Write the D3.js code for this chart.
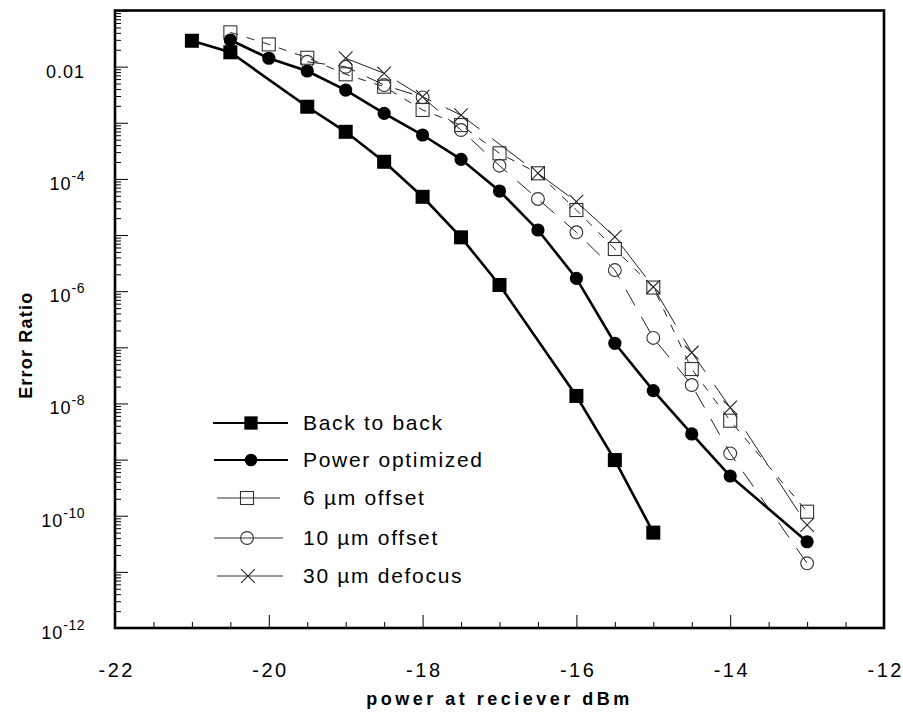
<!DOCTYPE html>
<html>
<head>
<meta charset="utf-8">
<script src="https://cdn.jsdelivr.net/npm/d3@7"></script>
<style>
  html, body { margin: 0; padding: 0; background: #fff; }
  svg { display: block; font-family: Arial, "Liberation Sans", Helvetica, sans-serif; }
</style>
</head>
<body>
<svg id="chart" width="903" height="716"></svg>
<script>
// Received optical power (dBm) and measured error ratio for each configuration
const b2bPower = [-21, -20.5, -19.5, -19, -18.5, -18, -17.5, -17, -16, -15.5, -15];
const b2bError = [0.0289, 0.0180, 0.00193, 6.9e-4, 2.02e-4, 4.8e-5, 9.1e-6, 1.29e-6, 1.36e-8, 9.8e-10, 5.0e-11];

const optPower = [-20.5, -20, -19.5, -19, -18.5, -18, -17.5, -17, -16.5, -16, -15.5, -15, -14.5, -14, -13];
const optError = [0.0298, 0.0141, 0.00836, 0.00383, 0.00147, 6.05e-4, 2.23e-4, 6.08e-5, 1.23e-5, 1.69e-6, 1.18e-7, 1.69e-8, 2.86e-9, 5.1e-10, 3.44e-11];

const off6Power = [-20.5, -20, -19.5, -19, -18.5, -18, -17.5, -17, -16.5, -16, -15.5, -15, -14.5, -14, -13];
const off6Error = [0.0408, 0.0249, 0.0144, 0.0073, 0.00439, 0.00169, 9.1e-4, 2.86e-4, 1.26e-4, 2.79e-5, 5.64e-6, 1.16e-6, 4.1e-8, 4.93e-9, 1.18e-10];

const off10Power = [-19.5, -19, -18.5, -18, -17.5, -17, -16.5, -16, -15.5, -15, -14.5, -14, -13];
const off10Error = [0.0122, 0.00995, 0.0047, 0.00284, 7.43e-4, 1.72e-4, 4.39e-5, 1.12e-5, 2.38e-6, 1.47e-7, 2.13e-8, 1.29e-9, 1.42e-11];

const defPower = [-19, -18.5, -18, -17.5, -16.5, -16, -15.5, -15, -14.5, -14, -13];
const defError = [0.0141, 0.0076, 0.00291, 0.00137, 1.26e-4, 3.93e-5, 9.3e-6, 1.19e-6, 8.07e-8, 8.47e-9, 6.84e-11];

const seriesNames = ["Back to back", "Power optimized", "6 µm offset", "10 µm offset", "30 µm defocus"];

// Axis ticks and labels
const xMajorTicks = [-22, -20, -18, -16, -14, -12];
const yLabelExponents = [-2, -4, -6, -8, -10, -12];
const xTitle = "power at reciever dBm";
const yTitle = "Error Ratio";

const svg = d3.select("#chart");
const W = 903, H = 716;
const plot = { left: 115, right: 884, top: 10.5, bottom: 628 };

svg.append("rect").attr("width", W).attr("height", H).attr("fill", "#fff");

const x = d3.scaleLinear().domain([-22, -12]).range([plot.left, plot.right]);
const y = d3.scaleLog().domain([1e-12, 1e-1]).range([plot.bottom, plot.top]);

// ---- axes (ticks point into the plot) ----
const xMinor = d3.range(-22, -11.99, 0.5).filter(v => !xMajorTicks.includes(v));
svg.append("g")
  .attr("transform", `translate(0,${plot.bottom})`)
  .call(d3.axisBottom(x).tickValues(xMinor).tickSize(-6).tickFormat(""))
  .call(g => g.select(".domain").remove());

const xAxisG = svg.append("g")
  .attr("transform", `translate(0,${plot.bottom})`)
  .call(d3.axisBottom(x).tickValues(xMajorTicks).tickSize(-13).tickPadding(35).tickFormat(d3.format("d")))
  .call(g => g.select(".domain").remove());
xAxisG.selectAll("line").attr("stroke", "#000").attr("stroke-width", 1);
xAxisG.selectAll("text")
  .attr("font-size", 20).attr("fill", "#000")
  .attr("font-family", "Arial, 'Liberation Sans', sans-serif")
  .attr("dx", 1.2)
  .style("letter-spacing", "2.5px")
  .text(d => (d < 0 ? "-" : "") + Math.abs(d));

const decades = d3.range(-12, -0.5, 1).map(e => Math.pow(10, e));
const yMinor = [];
decades.slice(0, -1).forEach(d => { for (let k = 2; k <= 9; k++) yMinor.push(d * k); });

svg.append("g")
  .attr("transform", `translate(${plot.left},0)`)
  .call(d3.axisLeft(y).tickValues(yMinor).tickSize(-6).tickFormat(""))
  .call(g => g.select(".domain").remove())
  .call(g => g.selectAll("line").attr("stroke-width", 1));

svg.append("g")
  .attr("transform", `translate(${plot.left},0)`)
  .call(d3.axisLeft(y).tickValues(decades).tickSize(-13).tickFormat(""))
  .call(g => g.select(".domain").remove())
  .call(g => g.selectAll("line").attr("stroke-width", 1));

// y tick labels: 0.01 plain, the rest as powers of ten
const yLab = svg.append("g")
  .attr("font-size", 18)
  .attr("fill", "#000")
  .attr("text-anchor", "end");
yLabelExponents.forEach(e => {
  const t = yLab.append("text")
    .attr("x", 85)
    .attr("y", y(Math.pow(10, e)) + 11)
    .style("letter-spacing", "1px");
  if (e === -2) {
    t.text("0.01");
  } else {
    t.append("tspan").text("10");
    t.append("tspan").attr("font-size", 14).attr("dy", -9).style("letter-spacing", "0.5px").text(String(e));
  }
});

// frame
svg.append("rect")
  .attr("x", plot.left).attr("y", plot.top)
  .attr("width", plot.right - plot.left).attr("height", plot.bottom - plot.top)
  .attr("fill", "none").attr("stroke", "#000").attr("stroke-width", 2.6);

// axis titles
svg.append("text")
  .attr("x", (plot.left + plot.right) / 2)
  .attr("y", 705)
  .attr("text-anchor", "middle")
  .attr("font-size", 18).attr("font-weight", "bold")
  .style("letter-spacing", "3.5px")
  .text(xTitle);

svg.append("text")
  .attr("transform", `translate(32,${(plot.top + plot.bottom) / 2 + 26}) rotate(-90)`)
  .attr("text-anchor", "middle")
  .attr("font-size", 18).attr("font-weight", "bold")
  .style("letter-spacing", "1.2px")
  .text(yTitle);

// ---- series ----
const zip = (xs, ys) => xs.map((v, i) => ({ p: v, e: ys[i] }));
const line = d3.line().x(d => x(d.p)).y(d => y(d.e));

const series = [
  { name: seriesNames[2], data: zip(off6Power, off6Error), marker: "osquare", width: 1, dash: "8,9", color: "#222" },
  { name: seriesNames[3], data: zip(off10Power, off10Error), marker: "ocircle", width: 1, dash: "18,13", color: "#222" },
  { name: seriesNames[4], data: zip(defPower, defError), marker: "cross", width: 1, dash: "40,16", color: "#222" },
  { name: seriesNames[1], data: zip(optPower, optError), marker: "fcircle", width: 2.6, dash: null, color: "#000" },
  { name: seriesNames[0], data: zip(b2bPower, b2bError), marker: "fsquare", width: 2.6, dash: null, color: "#000" }
];

function drawMarker(g, type, cx, cy, scale = 1) {
  if (type === "fsquare") {
    const s = 14 * scale;
    g.append("rect").attr("x", cx - s / 2).attr("y", cy - s / 2).attr("width", s).attr("height", s).attr("fill", "#000");
  } else if (type === "fcircle") {
    g.append("circle").attr("cx", cx).attr("cy", cy).attr("r", 6.6 * scale).attr("fill", "#000");
  } else if (type === "osquare") {
    const s = 13 * scale;
    g.append("rect").attr("x", cx - s / 2).attr("y", cy - s / 2).attr("width", s).attr("height", s)
      .attr("fill", "none").attr("stroke", "#333").attr("stroke-width", 1.1);
  } else if (type === "ocircle") {
    g.append("circle").attr("cx", cx).attr("cy", cy).attr("r", 6.4 * scale)
      .attr("fill", "none").attr("stroke", "#333").attr("stroke-width", 1.1);
  } else if (type === "cross") {
    const h = 6.8 * scale;
    g.append("path").attr("d", `M${cx - h},${cy - h}L${cx + h},${cy + h}M${cx - h},${cy + h}L${cx + h},${cy - h}`)
      .attr("stroke", "#222").attr("stroke-width", 1.1).attr("fill", "none");
  }
}

const dataG = svg.append("g");
series.forEach(s => {
  const g = dataG.append("g");
  g.append("path")
    .attr("d", line(s.data))
    .attr("fill", "none")
    .attr("stroke", s.color)
    .attr("stroke-width", s.width)
    .attr("stroke-dasharray", s.dash);
  s.data.forEach(d => drawMarker(g, s.marker, x(d.p), y(d.e)));
});

// ---- legend ----
const legendRows = [
  { s: series[4], y: 423, x1: 213, x2: 288, mx: 251 },
  { s: series[3], y: 460, x1: 214, x2: 288, mx: 251 },
  { s: series[0], y: 498, x1: 217, x2: 280, mx: 247 },
  { s: series[1], y: 538, x1: 214, x2: 283, mx: 247 },
  { s: series[2], y: 576, x1: 217, x2: 283, mx: 248 }
];
const lg = svg.append("g");
legendRows.forEach(r => {
  lg.append("line").attr("x1", r.x1).attr("x2", r.x2).attr("y1", r.y).attr("y2", r.y)
    .attr("stroke", r.s.width > 2 ? "#000" : "#333").attr("stroke-width", r.s.width > 2 ? 2.2 : 1);
  drawMarker(lg, r.s.marker, r.mx, r.y, r.s.width > 2 ? 0.95 : 1);
  lg.append("text").attr("x", 303).attr("y", r.y + 7)
    .attr("font-size", 21).attr("fill", "#000")
    .style("letter-spacing", "1.7px")
    .text(r.s.name);
});
</script>
</body>
</html>
